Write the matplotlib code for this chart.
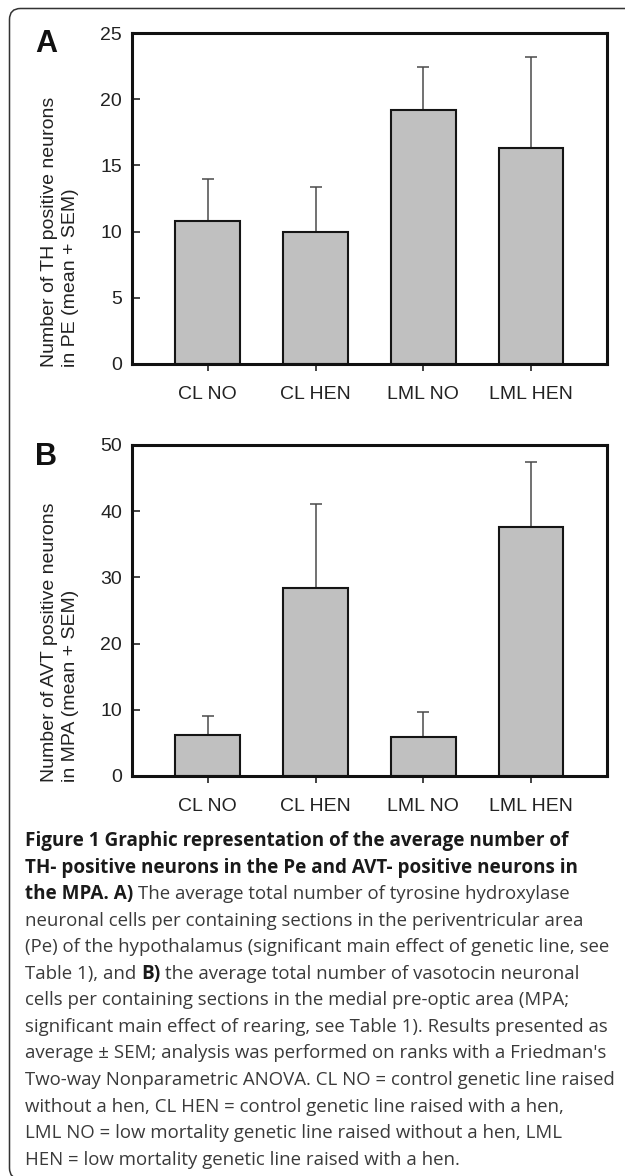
import matplotlib
matplotlib.use("Agg")
import matplotlib.pyplot as plt
import matplotlib.patches as mpatches
import numpy as np

# ---------------- data ----------------
groups = ["CL NO", "CL HEN", "LML NO", "LML HEN"]
th_mean = [10.8, 10.0, 19.2, 16.3]
th_sem = [3.2, 3.4, 3.2, 6.9]
avt_mean = [6.2, 28.4, 5.9, 37.6]
avt_sem = [2.9, 12.7, 3.8, 9.9]
th_yticks = [0, 5, 10, 15, 20, 25]
avt_yticks = [0, 10, 20, 30, 40, 50]
th_ylabel = "Number of TH positive neurons\nin PE (mean + SEM)"
avt_ylabel = "Number of AVT positive neurons\nin MPA (mean + SEM)"

caption_lines = [
    [("Figure 1 Graphic representation of the average number of", True)],
    [("TH- positive neurons in the Pe and AVT- positive neurons in", True)],
    [("the MPA. A)", True), (" The average total number of tyrosine hydroxylase", False)],
    [("neuronal cells per containing sections in the periventricular area", False)],
    [("(Pe) of the hypothalamus (significant main effect of genetic line, see", False)],
    [("Table 1), and ", False), ("B)", True), (" the average total number of vasotocin neuronal", False)],
    [("cells per containing sections in the medial pre-optic area (MPA;", False)],
    [("significant main effect of rearing, see Table 1). Results presented as", False)],
    [("average \u00b1 SEM; analysis was performed on ranks with a Friedman's", False)],
    [("Two-way Nonparametric ANOVA. CL NO = control genetic line raised", False)],
    [("without a hen, CL HEN = control genetic line raised with a hen,", False)],
    [("LML NO = low mortality genetic line raised without a hen, LML", False)],
    [("HEN = low mortality genetic line raised with a hen.", False)],
]

# ---------------- figure ----------------
W, H = 625, 1176
fig = plt.figure(figsize=(W / 100, H / 100), dpi=100)
fig.patch.set_facecolor("white")

FONT = "Liberation Sans"
CAP_FONT = "Open Sans"


def rect(l, t, r, b):
    return [l / W, 1 - b / H, (r - l) / W, (b - t) / H]


def draw_panel(ax, means, sems, yticks, letter, ylabel, letter_top, label_bottom):
    x = np.arange(len(groups))
    ax.errorbar(x, means, yerr=[np.zeros(len(sems)), sems], fmt="none",
                ecolor="#4a4a4a", elinewidth=1.1, capsize=4.5, capthick=1.1,
                zorder=1)
    ax.bar(x, means, width=0.6, color="#c0c0c0", edgecolor="#151515",
           linewidth=1.5, zorder=2)
    ax.set_xlim(-0.7, 3.7)
    ax.set_ylim(yticks[0], yticks[-1])
    ax.set_yticks(yticks)
    ax.set_xticks(x)
    ax.set_xticklabels(groups)
    for s in ax.spines.values():
        s.set_linewidth(2.2)
        s.set_color("#111111")
        s.set_zorder(3)
    ax.tick_params(axis="y", direction="in", length=6, width=1.2,
                   labelsize=14, pad=7.5, colors="#222222")
    ax.tick_params(axis="x", direction="out", length=5, width=1.2,
                   labelsize=14, pad=11, colors="#222222")
    for lab in ax.get_xticklabels() + ax.get_yticklabels():
        lab.set_family(FONT)
    fig.text(35 / W, 1 - letter_top / H, letter, fontsize=22, weight="bold",
             family=FONT, ha="left", va="top", color="#111111")
    fig.text(60 / W, 1 - label_bottom / H, ylabel, rotation=90, fontsize=14,
             family=FONT, ha="center", va="bottom", multialignment="left",
             linespacing=1.3, color="#222222")


axA = fig.add_axes(rect(132.3, 33, 606.6, 364))
draw_panel(axA, th_mean, th_sem, th_yticks, "A", th_ylabel, 29, 367)
axB = fig.add_axes(rect(132.3, 445, 606.6, 776))
draw_panel(axB, avt_mean, avt_sem, avt_yticks, "B", avt_ylabel, 442, 782)

# ---------------- border ----------------
border = mpatches.FancyBboxPatch((9.5, -3), 720, H - 8.5 + 3,
                                 boxstyle="round,pad=0,rounding_size=11",
                                 transform=None, fill=False,
                                 edgecolor="#333333", linewidth=1.1)
fig.add_artist(border)

# ---------------- caption ----------------
r = fig.canvas.get_renderer()


def measure(s, **kw):
    t = fig.text(0, 0, s, **kw)
    w = t.get_window_extent(r).width
    t.remove()
    return w


w_norm = measure(caption_lines[9][0][0], fontsize=12, family=CAP_FONT)
fs_norm = 12 * 587.5 / w_norm
w_bold = measure(caption_lines[0][0][0], fontsize=12, family=CAP_FONT, weight="bold")
fs_bold = 12 * 543.0 / w_bold


def style(bold):
    if bold:
        return dict(fontsize=fs_bold, family=CAP_FONT, weight="bold", color="#1a1a1a")
    return dict(fontsize=fs_norm, family=CAP_FONT, color="#3a3a3a")


def space_w(bold):
    st = style(bold)
    return measure("x x", **st) - measure("xx", **st)


x0 = 25.0
base0 = 846.0
dy = 26.55
for i, segs in enumerate(caption_lines):
    xp = x0
    y = 1 - (base0 + i * dy) / H
    for txt, bold in segs:
        st = style(bold)
        if txt.startswith(" "):
            xp += space_w(bold)
        core = txt.strip()
        t = fig.text(xp / W, y, core, ha="left", va="baseline", **st)
        xp += t.get_window_extent(r).width
        if txt.endswith(" "):
            xp += space_w(bold)

fig.savefig("out.png", dpi=100)
